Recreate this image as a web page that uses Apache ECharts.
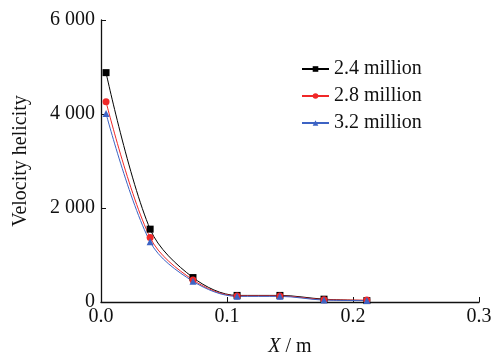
<!DOCTYPE html>
<html>
<head>
<meta charset="utf-8">
<script src="https://cdn.jsdelivr.net/npm/echarts@6/dist/echarts.min.js"></script>
<style>
  html, body { margin: 0; padding: 0; background: #fff; }
  #chart { width: 493px; height: 355px; }
</style>
</head>
<body>
<div id="chart"></div>
<script>
// positions along X (m)
const xPos = [0.004, 0.039, 0.073, 0.108, 0.142, 0.177, 0.211];

// velocity helicity per grid size
const v24 = [4880, 1550, 520, 140, 140, 60, 30];
const v28 = [4260, 1370, 470, 130, 130, 50, 40];
const v32 = [4010, 1280, 440, 120, 120, 40, 30];

const seriesNames = ["2.4 million", "2.8 million", "3.2 million"];
const seriesColors = ["#000000", "#f02828", "#3d63c4"];
const seriesSymbols = ["rect", "circle", "triangle"];
const seriesValues = [v24, v28, v32];

const font = "Liberation Serif";

const chart = echarts.init(document.getElementById("chart"));

const fmtThousands = (v) => {
  const s = String(v);
  return s.length > 3 ? s.slice(0, -3) + " " + s.slice(-3) : s;
};

chart.setOption({
  animation: false,
  backgroundColor: "#fff",
  grid: { left: 101, right: 14, top: 20, bottom: 53, outerBoundsMode: "none", containLabel: false },
  legend: {
    orient: "vertical",
    left: 296,
    top: 54,
    itemWidth: 27,
    itemHeight: 7,
    itemGap: 7,
    textStyle: { fontFamily: font, fontSize: 20, color: "#111" },
    data: seriesNames
  },
  xAxis: {
    type: "value",
    min: 0,
    max: 0.3,
    interval: 0.1,
    name: "{i|X} / m",
    nameLocation: "middle",
    nameGap: 35,
    nameTextStyle: {
      fontFamily: font, fontSize: 20, color: "#111",
      rich: { i: { fontFamily: font, fontSize: 20, fontStyle: "italic", color: "#111" } }
    },
    axisLine: { lineStyle: { color: "#111", width: 1.3 } },
    axisTick: { inside: true, length: 5, lineStyle: { color: "#111" } },
    axisLabel: {
      fontFamily: font, fontSize: 20, color: "#111", margin: 5,
      formatter: (v) => v.toFixed(1)
    },
    splitLine: { show: false }
  },
  yAxis: {
    type: "value",
    min: 0,
    max: 6000,
    interval: 2000,
    name: "Velocity helicity",
    nameLocation: "middle",
    nameGap: 70,
    nameTextStyle: { fontFamily: font, fontSize: 20, color: "#111" },
    axisLine: { show: true, lineStyle: { color: "#111", width: 1.3 } },
    axisTick: { show: true, inside: true, length: 5, lineStyle: { color: "#111" } },
    axisLabel: {
      fontFamily: font, fontSize: 20, color: "#111", margin: 6,
      formatter: fmtThousands
    },
    splitLine: { show: false }
  },
  series: seriesNames.map((name, k) => ({
    name: name,
    type: "line",
    smooth: 0.33,
    symbol: seriesSymbols[k],
    symbolSize: 7,
    color: seriesColors[k],
    lineStyle: { width: 1, color: seriesColors[k] },
    itemStyle: { color: seriesColors[k] },
    data: xPos.map((x, i) => [x, seriesValues[k][i]])
  }))
});
</script>
</body>
</html>
